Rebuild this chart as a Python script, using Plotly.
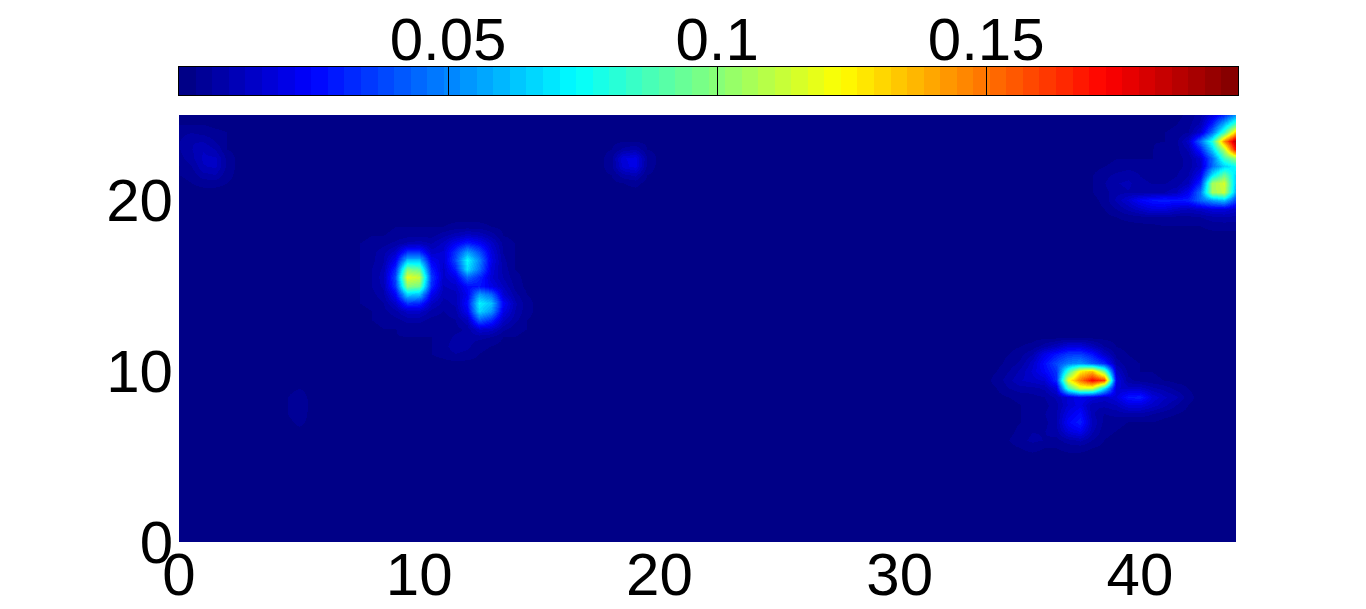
import plotly.graph_objects as go

# Values in thousandths. Each patch lists rows from top (high y) to bottom.
BACKGROUND = 2
X_STEP = 0.5
X_COUNT = 89
Y_COUNT = 51

PATCH_SPOTS_X0, PATCH_SPOTS_YTOP = 7.0, 18.5
PATCH_SPOTS = [
    [2,2,2,2,3,3,3,3,3,4,4,4,3,2,2,2,2],
    [2,2,3,3,4,5,5,5,8,11,14,12,8,3,2,2,2],
    [2,3,4,5,7,10,11,9,13,22,30,24,14,5,3,2,2],
    [2,3,5,8,14,34,34,14,16,34,56,40,18,6,3,2,2],
    [2,3,5,9,22,62,62,22,16,38,74,50,20,7,3,2,2],
    [2,3,6,10,32,98,92,30,14,30,68,46,18,8,3,2,2],
    [2,3,6,11,38,118,112,36,14,20,44,32,16,9,4,2,2],
    [2,3,6,10,34,100,96,32,12,14,26,28,20,12,5,2,2],
    [2,3,5,8,24,66,62,22,10,11,22,54,44,16,7,3,2],
    [2,3,4,6,14,34,32,13,8,10,26,72,62,24,10,4,2],
    [2,2,3,5,8,14,14,8,6,8,22,66,54,20,9,4,2],
    [2,2,3,4,5,7,7,5,5,6,12,42,32,13,7,3,2],
    [2,2,2,3,3,4,4,4,4,5,7,16,14,7,4,3,2],
    [2,2,2,2,3,3,3,3,4,7,7,7,6,3,3,2,2],
    [2,2,2,2,2,2,2,3,5,8,7,4,3,2,2,2,2],
    [2,2,2,2,2,2,2,3,4,6,5,3,2,2,2,2,2],
]

PATCH_HOT_X0, PATCH_HOT_YTOP = 34.0, 11.5
PATCH_HOT = [
    [2,2,3,4,8,12,18,18,12,6,3,2,2,2,2,2,2],
    [2,3,5,9,20,28,35,36,28,14,5,3,2,2,2,2,2],
    [2,4,7,14,26,38,48,52,42,32,8,4,3,2,2,2,2],
    [3,6,10,16,24,34,85,125,135,95,14,5,3,3,2,2,2],
    [4,8,12,14,16,32,120,150,172,160,20,7,5,4,3,2,2],
    [3,6,8,8,10,18,85,115,115,70,16,14,14,10,8,5,3],
    [2,3,4,5,6,10,16,22,18,14,18,28,30,18,13,10,4],
    [2,2,3,4,5,8,16,20,10,10,12,18,18,14,10,6,3],
    [2,2,3,5,6,9,20,26,10,6,7,8,8,6,4,3,2],
    [2,2,3,4,5,9,24,30,12,5,4,3,3,3,2,2,2],
    [2,2,4,6,6,8,18,22,10,4,3,2,2,2,2,2,2],
    [2,3,5,7,6,5,8,10,6,3,2,2,2,2,2,2,2],
    [2,2,3,4,3,3,4,4,3,2,2,2,2,2,2,2,2],
]

PATCH_CORNER_X0, PATCH_CORNER_YTOP = 38.0, 25.0
PATCH_CORNER = [
    [2,2,2,2,2,2,2,2,4,8,18,32,55],
    [2,2,2,2,2,2,2,3,5,10,30,60,90],
    [2,2,2,2,2,2,3,4,6,16,45,85,135],
    [2,2,2,2,2,3,3,5,14,45,80,145,190],
    [2,2,2,2,2,3,4,5,10,30,65,110,175],
    [2,2,3,3,3,3,4,5,7,16,45,85,105],
    [2,3,4,5,5,4,4,5,7,14,45,65,75],
    [3,5,7,8,6,5,5,6,9,22,70,95,65],
    [3,6,9,10,7,6,6,7,12,32,105,115,60],
    [3,5,8,9,8,8,9,12,22,46,105,112,55],
    [2,4,10,16,24,28,30,28,30,44,55,62,35],
    [2,3,6,10,14,18,18,14,12,14,18,18,14],
    [2,2,3,4,5,6,6,5,5,6,8,9,8],
    [2,2,2,2,2,2,3,3,3,3,4,4,4],
]

PATCH_LEFT_X0, PATCH_LEFT_YTOP = 0.0, 24.5
PATCH_LEFT = [
    [3,3,3,2,2,2,2],
    [5,6,5,4,3,2,2],
    [6,9,9,6,3,2,2],
    [6,9,12,9,3,2,2],
    [5,8,13,13,5,2,2],
    [3,6,12,13,5,2,2],
    [3,4,8,9,4,2,2],
    [2,3,4,4,3,2,2],
    [2,2,2,2,2,2,2],
]

PATCH_MID_X0, PATCH_MID_YTOP = 17.5, 23.5
PATCH_MID = [
    [2,2,3,3,2,2],
    [2,3,7,9,3,2],
    [2,5,18,20,6,2],
    [2,5,17,20,5,2],
    [2,3,8,10,3,2],
    [2,2,3,4,2,2],
]

PATCH_FAINT_X0, PATCH_FAINT_YTOP = 4.0, 9.0
PATCH_FAINT = [
    [2,2,3,2],
    [2,3,5,2],
    [2,3,6,2],
    [2,3,5,2],
    [2,2,4,2],
    [2,2,2,2],
]

X_TICKS = [0, 10, 20, 30, 40]
Y_TICKS = [0, 10, 20]
CBAR_TICKS = [0.05, 0.1, 0.15]
CBAR_LABELS = ["0.05", "0.1", "0.15"]
Z_MAX = 0.1968

xs = [i * X_STEP for i in range(X_COUNT)]
ys = [j * X_STEP for j in range(Y_COUNT)]
grid = [[BACKGROUND] * X_COUNT for _ in range(Y_COUNT)]
for patch, x0, ytop in [
    (PATCH_SPOTS, PATCH_SPOTS_X0, PATCH_SPOTS_YTOP),
    (PATCH_HOT, PATCH_HOT_X0, PATCH_HOT_YTOP),
    (PATCH_CORNER, PATCH_CORNER_X0, PATCH_CORNER_YTOP),
    (PATCH_LEFT, PATCH_LEFT_X0, PATCH_LEFT_YTOP),
    (PATCH_MID, PATCH_MID_X0, PATCH_MID_YTOP),
    (PATCH_FAINT, PATCH_FAINT_X0, PATCH_FAINT_YTOP),
]:
    for r, row in enumerate(patch):
        j = int(round(ytop / X_STEP)) - r
        for c, v in enumerate(row):
            grid[j][int(round(x0 / X_STEP)) + c] = v
z = [[v / 1000 for v in row] for row in grid]


def jet_channel(t, centre):
    return max(0.0, min(1.0, 1.5 - abs(4 * t - centre)))


N = 64
colorscale = []
for k in range(N):
    t = (k + 0.5) / N
    col = "rgb(%d,%d,%d)" % tuple(round(255 * jet_channel(t, c)) for c in (3, 2, 1))
    colorscale.append([k / N, col])
    colorscale.append([(k + 1) / N, col])

bar_x = [(k + 0.5) * Z_MAX / N for k in range(N)]

FONT = "Liberation Sans"
PW, PH = 1059, 475  # plot-area box in pixels
fig = go.Figure()
fig.add_trace(go.Heatmap(x=xs, y=ys, z=z, zmin=0, zmax=Z_MAX, zsmooth="best",
                         colorscale=colorscale, showscale=False, hoverinfo="skip"))
fig.add_trace(go.Heatmap(x=bar_x, y=[0], z=[bar_x], zmin=0, zmax=Z_MAX, xaxis="x2", yaxis="y2",
                         colorscale=colorscale, showscale=False, hoverinfo="skip"))
fig.update_layout(
    width=1358, height=601, autosize=False,
    margin=dict(l=171, r=128, t=59, b=67, autoexpand=False),
    paper_bgcolor="white", plot_bgcolor="white",
    font=dict(family=FONT, color="black"),
    xaxis=dict(domain=[0, 1057 / PW], range=[0, 44], tickvals=X_TICKS, ticks="", showgrid=False,
               zeroline=False, showline=False, tickfont=dict(size=60), automargin=False,
               ticklabelstandoff=-8),
    yaxis=dict(domain=[0, 427 / PH], range=[0, 25], tickvals=Y_TICKS, ticks="", showgrid=False,
               zeroline=False, showline=False, tickfont=dict(size=60), automargin=False,
               ticklabelstandoff=5),
    xaxis2=dict(domain=[0, 1], range=[0, Z_MAX], anchor="y2", side="top", tickmode="array",
                tickvals=CBAR_TICKS, ticktext=CBAR_LABELS, ticks="inside", ticklen=28, tickwidth=1,
                tickcolor="black", showgrid=False, zeroline=False, showline=True, linecolor="black",
                linewidth=1, mirror=True, tickfont=dict(size=60), automargin=False,
                ticklabelstandoff=-18),
    yaxis2=dict(domain=[447 / PH, 1], range=[-0.5, 0.5], anchor="x2", showticklabels=False,
                ticks="", showgrid=False, zeroline=False, showline=True, linecolor="black",
                linewidth=1, mirror=True, automargin=False),
)
fig.write_html("out.html")
